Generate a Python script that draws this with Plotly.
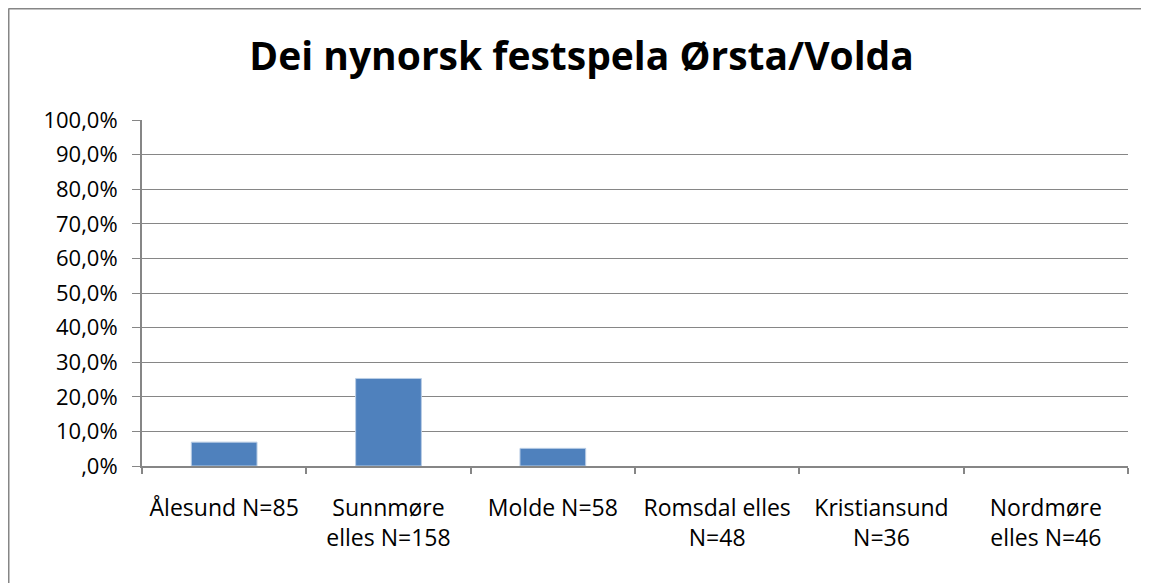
import plotly.graph_objects as go

categories = ["Ålesund N=85", "Sunnmøre<br>elles N=158", "Molde N=58",
              "Romsdal elles<br>N=48", "Kristiansund<br>N=36", "Nordmøre<br>elles N=46"]
values = [6.9, 25.3, 5.1, 0, 0, 0]
y_tickvals = [0, 10, 20, 30, 40, 50, 60, 70, 80, 90, 100]
y_ticktext = [",0%", "10,0%", "20,0%", "30,0%", "40,0%", "50,0%",
              "60,0%", "70,0%", "80,0%", "90,0%", "100,0%"]
title = "Dei nynorsk festspela Ørsta/Volda"

grey = "#868686"
font = "Open Sans, sans-serif"

W, H = 1141, 575
L, R, T, B = 134, 21, 112, 117
PW = W - L - R
PH = H - T - B

fig = go.Figure(go.Bar(
    x=categories, y=values,
    marker=dict(color="#4F81BD",
                line=dict(color="#B9CDE5", width=[1 if v > 0 else 0 for v in values])),
))

fig.update_layout(
    width=W, height=H,
    margin=dict(l=L, r=R, t=T, b=B),
    paper_bgcolor="white", plot_bgcolor="white",
    bargap=0.6,
    showlegend=False,
    title=dict(text="<b>" + title + "</b>", x=0.5027, xanchor="center",
               y=1 - 48 / H, yanchor="middle",
               font=dict(family=font, size=39, color="black")),
    font=dict(family=font, size=22, color="black"),
    xaxis=dict(
        showline=True, linecolor=grey, linewidth=2,
        ticks="outside", tickson="boundaries", ticklen=6, tickcolor=grey, tickwidth=2,
        showgrid=False, fixedrange=True,
        tickfont=dict(family=font, size=23),
        ticklabelstandoff=20,
    ),
    yaxis=dict(
        range=[0, 100], tickvals=y_tickvals, ticktext=y_ticktext,
        showline=True, linecolor=grey, linewidth=2,
        ticks="outside", ticklen=8, tickcolor=grey, tickwidth=1,
        showgrid=True, gridcolor=grey, gridwidth=1,
        zeroline=False, tickfont=dict(family=font, size=22),
        ticklabelstandoff=10,
    ),
    shapes=[
        dict(type="line", xref="paper", yref="paper", x0=(0.5 - L) / PW, x1=(W - L + 5) / PW,
             y0=1 + (T - 0.5) / PH, y1=1 + (T - 0.5) / PH, line=dict(color=grey, width=2)),
        dict(type="line", xref="paper", yref="paper", x0=(0.5 - L) / PW, x1=(0.5 - L) / PW,
             y0=1 + (T - 0.5) / PH, y1=-(B + 5) / PH, line=dict(color=grey, width=2)),
    ],
)

fig.write_html("out.html")
